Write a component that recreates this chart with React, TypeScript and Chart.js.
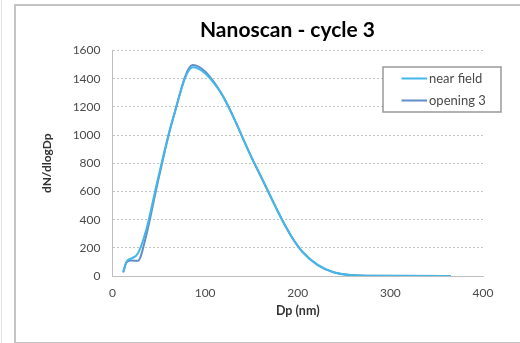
import React, { useEffect, useRef } from "react";
import { Chart, registerables } from "chart.js";

Chart.register(...registerables);

const TITLE = "Nanoscan - cycle 3";
const X_TITLE = "Dp (nm)";
const Y_TITLE = "dN/dlogDp";
const SERIES_NAMES = ["near field", "opening 3"];
const DP = [11.5, 15.4, 20.5, 27.4, 36.5, 48.7, 64.9, 86.6, 115.5, 154.0, 205.4, 273.8, 365.2];
const NEAR_FIELD = [30, 105, 125, 160, 330, 680, 1110, 1482, 1315, 790, 170, 2, 0];
const OPENING_3 = [25, 100, 110, 108, 290, 660, 1105, 1497, 1318, 788, 168, 2, 0];
const X_MIN = 0, X_MAX = 400, X_STEP = 100;
const Y_MIN = 0, Y_MAX = 1600, Y_STEP = 200;

const COLORS = ["#45b6e8", "#5f8fc6"];
const FONT = "Lato, 'Open Sans', sans-serif";
const TEXT = "#4a4a4a";

const overlayPlugin = {
  id: "overlay",
  afterDraw(chart: any) {
    const ctx = chart.ctx;
    ctx.save();
    // title
    ctx.fillStyle = "#000";
    ctx.font = `bold 21px ${FONT}`;
    ctx.textAlign = "center";
    ctx.textBaseline = "middle";
    ctx.fillText(TITLE, 287.5, 30);
    // legend box
    const bx = 383, by = 67, bw = 118, bh = 45;
    ctx.fillStyle = "#fff";
    ctx.fillRect(bx, by, bw, bh);
    ctx.strokeStyle = "#999";
    ctx.lineWidth = 1.5;
    ctx.strokeRect(bx, by, bw, bh);
    ctx.font = `13px ${FONT}`;
    ctx.textAlign = "left";
    chart.data.datasets.forEach((ds: any, i: number) => {
      const y = 78.5 + i * 22;
      ctx.strokeStyle = ds.borderColor;
      ctx.lineWidth = 2;
      ctx.beginPath();
      ctx.moveTo(401.5, y);
      ctx.lineTo(427, y);
      ctx.stroke();
      ctx.fillStyle = TEXT;
      ctx.fillText(ds.label, 429, y);
    });
    ctx.restore();
  },
};

export default function App() {
  const ref = useRef<HTMLCanvasElement>(null);
  useEffect(() => {
    if (!ref.current) return;
    const toPts = (ys: number[]) => DP.map((x, i) => ({ x, y: ys[i] }));
    const common = { borderWidth: 2, pointRadius: 0, cubicInterpolationMode: "monotone", fill: false };
    const chart = new Chart(ref.current, {
      type: "line",
      data: {
        datasets: [
          { label: SERIES_NAMES[0], data: toPts(NEAR_FIELD), borderColor: COLORS[0], backgroundColor: COLORS[0], ...common },
          { label: SERIES_NAMES[1], data: toPts(OPENING_3), borderColor: COLORS[1], backgroundColor: COLORS[1], ...common },
        ],
      },
      options: {
        animation: false,
        responsive: false,
        devicePixelRatio: 1,
        layout: { padding: { left: 30, right: 37, top: 50.5, bottom: 15 } },
        plugins: { legend: { display: false }, title: { display: false }, tooltip: { enabled: false } },
        scales: {
          x: {
            type: "linear",
            min: X_MIN,
            max: X_MAX,
            ticks: { stepSize: X_STEP, color: TEXT, font: { family: FONT, size: 12 }, padding: 10, callback: (v: any) => String(v) },
            grid: { display: false, drawTicks: false },
            border: { display: true, color: "#bfbfbf", width: 1 },
            title: { display: true, text: X_TITLE, color: "#333", font: { family: FONT, size: 12.5, weight: "bold" }, padding: { top: 0, bottom: 10 } },
            afterFit: (s: any) => { s.height = 52; },
          },
          y: {
            min: Y_MIN,
            max: Y_MAX,
            ticks: { stepSize: Y_STEP, color: TEXT, font: { family: FONT, size: 12 }, padding: 12, callback: (v: any) => String(v) },
            grid: { color: "#c4c4c4", drawTicks: false, lineWidth: 1 },
            border: { display: true, color: "#bfbfbf", width: 1, dash: [2, 2] },
            title: { display: true, text: Y_TITLE, color: "#333", font: { family: FONT, size: 12, weight: "bold" }, padding: { top: 10, bottom: 0 } },
            afterFit: (s: any) => { s.width = 82.5; },
          },
        },
      },
      plugins: [overlayPlugin],
    } as any);
    return () => chart.destroy();
  }, []);
  return (
    <div style={{ position: "fixed", left: 0, top: 0, width: 520, height: 343, background: "#fff", overflow: "hidden" }}>
      <div style={{ position: "absolute", left: 1, top: 0, width: 1, height: 343, background: "#e2e2e2" }} />
      <div style={{ position: "absolute", left: 14, top: 4, width: 520, height: 336, borderLeft: "2px solid #c4c4c4", borderTop: "2px solid #c4c4c4", borderBottom: "2px solid #c4c4c4" }} />
      <canvas ref={ref} width={520} height={343} style={{ position: "absolute", left: 0, top: 0, width: 520, height: 343 }} />
    </div>
  );
}
